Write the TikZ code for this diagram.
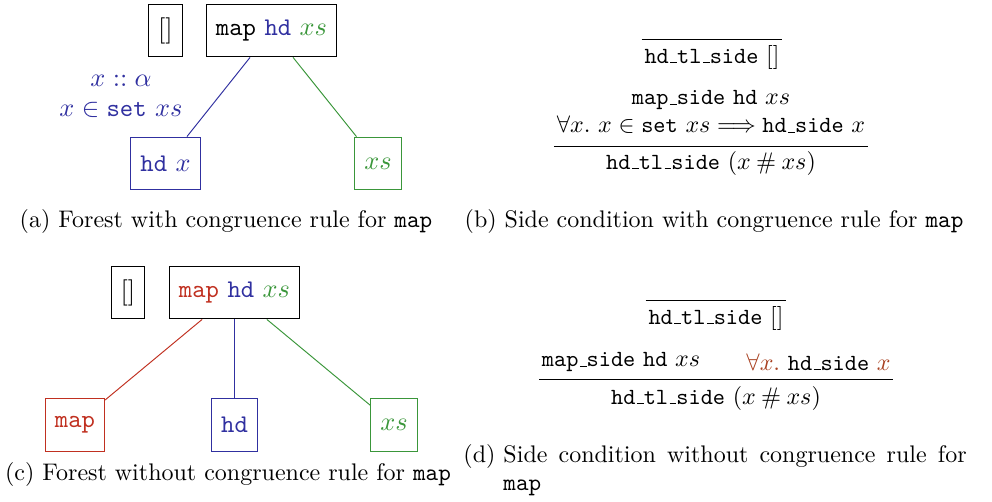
\documentclass[tikz,border=0pt]{standalone}
\usepackage{amsmath,amssymb}

\definecolor{hdblue}{RGB}{48,48,160}
\definecolor{xsgreen}{RGB}{58,150,58}
\definecolor{mapred}{RGB}{192,48,32}
\definecolor{allred}{RGB}{168,64,32}

\newcommand{\tus}{\kern.06em\vbox{\hrule width.3em}}
\newcommand{\isa}[1]{\texttt{#1}}

\tikzset{
  tbox/.style={draw,inner xsep=4pt,minimum height=22pt,font=\fontsize{10.6}{12.7}\selectfont},
  rtext/.style={inner sep=1pt,font=\fontsize{9.65}{11.5}\selectfont},
}

\begin{document}
\begin{tikzpicture}[x=0.4167pt,y=-0.4167pt]

\useasboundingbox (0,0) rectangle (992,501) ;

% (a) forest with congruence rule
\node[tbox] (nilA) at (165.5,30.5) {$[]$} ;
\node[tbox] (mapA) at (271.5,30.5) {\isa{map} \textcolor{hdblue}{\isa{hd}} \textcolor{xsgreen}{$xs$}} ;
\node[tbox,draw=hdblue,text=hdblue] (hdA) at (165.5,163.5) {\isa{hd} $x$} ;
\node[tbox,draw=xsgreen,text=xsgreen] (xsA) at (378,163.5) {$xs$} ;
\node[text=hdblue,align=center,font=\fontsize{10.6}{12.5}\selectfont] (ctxA) at (121,96) {$x :: \alpha$\\$x \in \isa{set}\ xs$} ;

\draw[hdblue] (mapA) -- (hdA) ;
\draw[xsgreen] (mapA) -- (xsA) ;

\node[anchor=base] (capA) at (226,227) {(a) Forest with congruence rule for \isa{map}} ;

% (b) side condition with congruence rule
\node[rtext] (axB) at (712,57) {\isa{hd\tus tl\tus side} $[]$} ;
\draw ([yshift=1pt]axB.north west) -- ([yshift=1pt]axB.north east) ;

\node[rtext] (premB) at (711,100) {\isa{map\tus side} \isa{hd} $xs$} ;
\node[rtext] (congB) at (711,125) {$\forall x.\ x \in \isa{set}\ xs \Longrightarrow \isa{hd\tus side}\ x$} ;
\node[rtext] (conclB) at (711,163) {\isa{hd\tus tl\tus side} $(x \mathbin{\#} xs)$} ;
\draw ([yshift=-4pt]congB.south west) -- ([yshift=-4pt]congB.south east) ;

\node[anchor=base] (capB) at (714,227) {(b) Side condition with congruence rule for \isa{map}} ;

% (c) forest without congruence rule
\node[tbox] (nilC) at (128,292.5) {$[]$} ;
\node[tbox] (mapC) at (234.5,292.5) {\textcolor{mapred}{\isa{map}} \textcolor{hdblue}{\isa{hd}} \textcolor{xsgreen}{$xs$}} ;
\node[tbox,draw=mapred,text=mapred] (mC) at (75,425) {\isa{map}} ;
\node[tbox,draw=hdblue,text=hdblue] (hdC) at (234.5,425) {\isa{hd}} ;
\node[tbox,draw=xsgreen,text=xsgreen] (xsC) at (394,425) {$xs$} ;

\draw[mapred] (mapC) -- (mC) ;
\draw[hdblue] (mapC) -- (hdC) ;
\draw[xsgreen] (mapC) -- (xsC) ;

\node[anchor=base] (capC) at (228,480) {(c) Forest without congruence rule for \isa{map}} ;

% (d) side condition without congruence rule
\node[rtext] (axD) at (716,318) {\isa{hd\tus tl\tus side} $[]$} ;
\draw ([yshift=1pt]axD.north west) -- ([yshift=1pt]axD.north east) ;

\node[rtext] (premD) at (621,362) {\isa{map\tus side} \isa{hd} $xs$} ;
\node[rtext] (allD) at (818.5,362) {$\textcolor{allred}{\forall x.}\ \isa{hd\tus side}\ \textcolor{allred}{x}$} ;
\node[rtext] (conclD) at (716,398) {\isa{hd\tus tl\tus side} $(x \mathbin{\#} xs)$} ;
\draw ([yshift=-2pt]premD.south west) -- ([yshift=-2pt]premD.south west -| allD.east) ;

\node[anchor=base west,inner sep=0pt] (capD) at (463,462) {(d)~\parbox[t]{193pt}{Side condition without congruence rule for \isa{map}}} ;

\end{tikzpicture}
\end{document}
